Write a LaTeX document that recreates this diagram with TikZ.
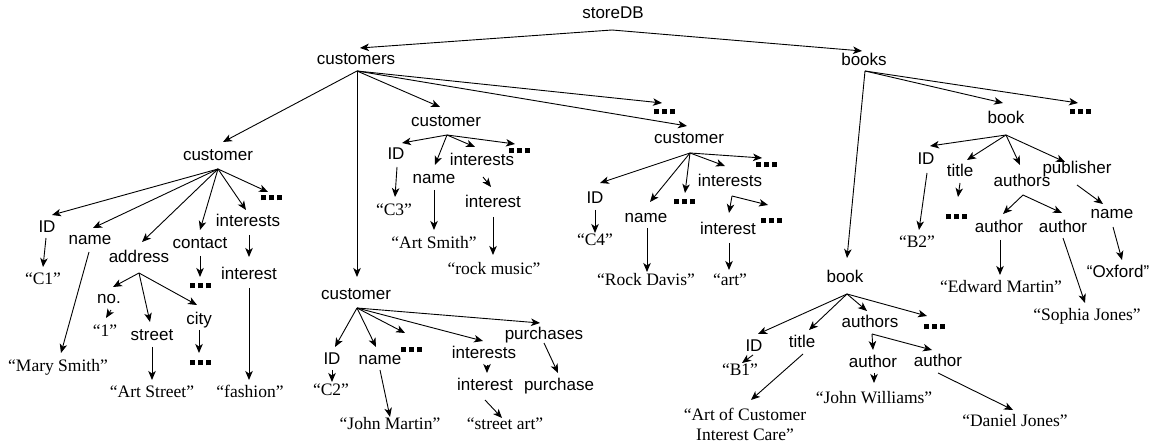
\documentclass[tikz,border=0pt]{standalone}
\usepackage{fontspec}
\setmainfont{Liberation Sans}
\newfontfamily\valfont{Liberation Serif}
\usetikzlibrary{arrows.meta,calc}
\newcommand\dotsq{\rule{5pt}{5pt}\hspace{3pt}\rule{5pt}{5pt}\hspace{3pt}\rule{5pt}{5pt}}
\newcommand\edgeto[4]{\draw[arr] ($(#1)+(#2)$) -- ($(#3)+(#4)$);}
\tikzset{
  lab/.style={inner sep=0pt, text height=12.5pt, text depth=3.5pt, font=\fontsize{17}{20}\selectfont},
  val/.style={inner sep=0pt, text height=12.5pt, text depth=3.5pt, font=\valfont\fontsize{17.5}{20}\selectfont},
  dotn/.style={inner sep=0pt},
  arr/.style={draw, line width=0.9pt, -{Stealth[length=9pt,width=7.5pt,inset=2.5pt]}}
}
\begin{document}
\begin{tikzpicture}[x=1pt,y=-1pt]
\useasboundingbox[fill=white] (0,0) rectangle (1157,443);
% top level
\node[lab] (S) at (613,14) {storeDB};
\node[lab] (CS) at (356,60) {customers};
\node[lab] (BK) at (864,61) {books};
\edgeto{S}{-1,16}{CS}{4,-12}
\edgeto{S}{-1,16}{BK}{-2,-10}
% customers children
\node[lab] (c1) at (218,156) {customer};
\node[lab] (c3) at (446,122) {customer};
\node[dotn] (d0) at (664,112) {\dotsq};
\node[lab] (c4) at (689,139) {customer};
\node[lab] (c2) at (356,295) {customer};
\edgeto{CS}{1,11}{c1}{5,-14}
\edgeto{CS}{1,11}{c3}{-6,-15}
\edgeto{CS}{1,11}{d0}{-2,-9}
\edgeto{CS}{1,11}{c4}{-2,-13}
\edgeto{CS}{1,11}{c2}{1,-18}
% customer 1
\node[lab] (a1) at (47,228) {ID};
\node[lab] (a2) at (90,240) {name};
\node[lab] (a3) at (139,258) {address};
\node[lab] (a4) at (200,244) {contact};
\node[lab] (a5) at (248,222) {interests};
\node[dotn] (a6) at (271,198) {\dotsq};
\edgeto{c1}{0,13}{a1}{5,-13}
\edgeto{c1}{0,13}{a2}{3,-12}
\edgeto{c1}{0,13}{a3}{3,-16}
\edgeto{c1}{0,13}{a4}{0,-14}
\edgeto{c1}{0,13}{a5}{-2,-12}
\edgeto{c1}{0,13}{a6}{-3,-6}
\node[val] (v1) at (43,280) {“C1”};
\edgeto{a1}{-1,10}{v1}{0,-13}
\node[val] (v2) at (58,367) {“Mary Smith”};
\edgeto{a2}{-1,12}{v2}{3,-14}
\node[lab] (b1) at (109,299) {no.};
\node[lab] (b2) at (152,336) {street};
\node[lab] (b3) at (199,320) {city};
\edgeto{a3}{0,15}{b1}{4,-12}
\edgeto{a3}{0,15}{b2}{-2,-14}
\edgeto{a3}{0,15}{b3}{-2,-15}
\node[val] (v3) at (105,332) {“1”};
\edgeto{b1}{2,11}{v3}{1,-14}
\node[val] (v4) at (152,393) {“Art Street”};
\edgeto{b2}{0,11}{v4}{0,-13}
\node[dotn] (d1) at (200,363) {\dotsq};
\edgeto{b3}{0,10}{d1}{-1,-10}
\node[dotn] (d2) at (200,286) {\dotsq};
\edgeto{a4}{0,12}{d2}{0,-9}
\node[lab] (a7) at (249,275) {interest};
\edgeto{a5}{1,13}{a7}{0,-18}
\node[val] (v5) at (250,393) {“fashion”};
\edgeto{a7}{0,13}{v5}{-1,-13}
% customer 3
\node[lab] (e1) at (396,155) {ID};
\node[lab] (e2) at (434,179) {name};
\node[lab] (e3) at (482,161) {interests};
\node[dotn] (e4) at (519,151) {\dotsq};
\edgeto{c3}{1,13}{e1}{6,-12}
\edgeto{c3}{1,13}{e2}{1,-14}
\edgeto{c3}{1,13}{e3}{-7,-14}
\edgeto{c3}{1,13}{e4}{-4,-7}
\node[val] (v6) at (394,211) {“C3”};
\edgeto{e1}{1,12}{v6}{1,-14}
\node[lab] (e5) at (493,203) {interest};
\edgeto{e3}{1,16}{e5}{-2,-16}
\node[val] (v7) at (434,244) {“Art Smith”};
\edgeto{e2}{0,11}{v7}{0,-14}
\node[val] (v8) at (494,270) {“rock music”};
\edgeto{e5}{0,14}{v8}{-1,-15}
% customer 2
\node[lab] (g1) at (332,360) {ID};
\node[lab] (g2) at (380,360) {name};
\node[dotn] (g3) at (411,350) {\dotsq};
\node[lab] (g4) at (484,354) {interests};
\node[lab] (g5) at (544,335) {purchases};
\edgeto{c2}{1,13}{g1}{3,-13}
\edgeto{c2}{1,13}{g2}{-4,-13}
\edgeto{c2}{1,13}{g3}{-6,-17}
\edgeto{c2}{1,13}{g4}{-1,-13}
\edgeto{c2}{1,13}{g5}{-4,-12}
\node[val] (v9) at (331,391) {“C2”};
\edgeto{g1}{0,10}{v9}{1,-9}
\node[val] (v10) at (390,425) {“John Martin”};
\edgeto{g2}{0,10}{v10}{0,-8}
\node[lab] (g6) at (485,386) {interest};
\edgeto{g4}{3,11}{g6}{2,-13}
\node[val] (v11) at (505,425) {“street art”};
\edgeto{g6}{0,14}{v11}{-3,-7}
\node[lab] (g7) at (559,386) {purchase};
\edgeto{g5}{0,8}{g7}{-1,-13}
% customer 4
\node[lab] (h1) at (595,199) {ID};
\node[lab] (h2) at (646,218) {name};
\node[dotn] (h3) at (684,202) {\dotsq};
\node[lab] (h4) at (730,182) {interests};
\node[dotn] (h5) at (766,165) {\dotsq};
\edgeto{c4}{1,14}{h1}{5,-16}
\edgeto{c4}{1,14}{h2}{4,-16}
\edgeto{c4}{1,14}{h3}{1,-9}
\edgeto{c4}{1,14}{h4}{-5,-16}
\edgeto{c4}{1,14}{h5}{-4,-7}
\node[lab] (h6) at (728,230) {interest};
\node[dotn] (h7) at (771,221) {\dotsq};
\edgeto{h4}{2,14}{h6}{1,-17}
\edgeto{h4}{2,14}{h7}{-3,-16}
\node[val] (v12) at (595,241) {“C4”};
\edgeto{h1}{0,11}{v12}{0,-8}
\node[val] (v13) at (646,281) {“Rock Davis”};
\edgeto{h2}{1,10}{v13}{1,-9}
\node[val] (v14) at (730,281) {“art”};
\edgeto{h6}{1,13}{v14}{-1,-11}
% books children
\node[lab] (K2) at (1006,119) {book};
\node[dotn] (K0) at (1080,112) {\dotsq};
\node[lab] (K1) at (845,278) {book};
\edgeto{BK}{1,10}{K2}{-3,-16}
\edgeto{BK}{1,10}{K0}{-2,-9}
\edgeto{BK}{1,10}{K1}{2,-20}
% book 1
\node[lab] (m1) at (754,347) {ID};
\node[lab] (m2) at (802,343) {title};
\node[lab] (m3) at (870,323) {authors};
\node[dotn] (m4) at (934,327) {\dotsq};
\edgeto{K1}{2,16}{m1}{4,-13}
\edgeto{K1}{2,16}{m2}{7,-13}
\edgeto{K1}{2,16}{m3}{-3,-12}
\edgeto{K1}{2,16}{m4}{-7,-11}
\node[val] (v15) at (740,371) {“B1”};
\edgeto{m1}{-1,8}{v15}{2,-8}
\node[val, align=center] (v16) at (745,436) {“Art of Customer\\Interest Care”};
\edgeto{m2}{1,11}{v16}{6,-36}
\node[lab] (n1) at (873,363) {author};
\node[lab] (n2) at (938,362) {author};
\edgeto{m3}{2,11}{n1}{0,-13}
\edgeto{m3}{2,11}{n2}{-6,-12}
\node[val] (v17) at (874,399) {“John Williams”};
\edgeto{n1}{1,10}{v17}{0,-16}
\node[val] (v18) at (1015,422) {“Daniel Jones”};
\edgeto{n2}{0,11}{v18}{-2,-12}
% book 2
\node[lab] (p1) at (926,160) {ID};
\node[lab] (p2) at (960,172) {title};
\node[lab] (p3) at (1022,182) {authors};
\node[lab] (p4) at (1077,169) {publisher};
\edgeto{K2}{0,16}{p1}{4,-14}
\edgeto{K2}{0,16}{p2}{7,-12}
\edgeto{K2}{0,16}{p3}{-2,-17}
\edgeto{K2}{0,16}{p4}{-12,-7}
\node[dotn] (p5) at (956,217) {\dotsq};
\edgeto{p2}{0,11}{p5}{2,-20}
\node[val] (v19) at (917,243) {“B2”};
\edgeto{p1}{1,13}{v19}{2,-13}
\node[lab] (q1) at (999,228) {author};
\node[lab] (q2) at (1063,228) {author};
\edgeto{p3}{1,13}{q1}{4,-14}
\edgeto{p3}{1,13}{q2}{-1,-15}
\node[lab] (q3) at (1112,214) {name};
\edgeto{p4}{0,16}{q3}{-9,-10}
\node[lab] (v20) at (1118,273) {“Oxford”};
\edgeto{q3}{1,13}{v20}{4,-13}
\node[val] (v21) at (1001,288) {“Edward Martin”};
\edgeto{q1}{1,12}{v21}{-1,-13}
\node[val] (v22) at (1087,316) {“Sophia Jones”};
\edgeto{q2}{0,10}{v22}{-2,-13}
\end{tikzpicture}
\end{document}
